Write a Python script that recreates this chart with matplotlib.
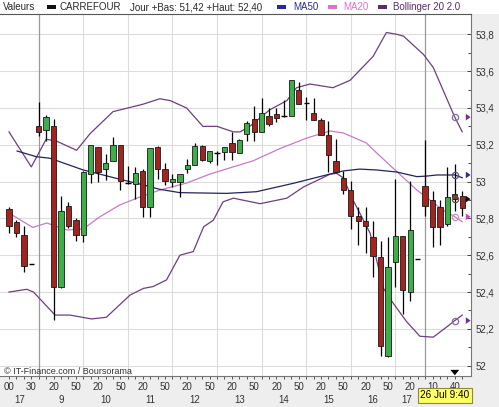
import matplotlib
matplotlib.use("Agg")
import matplotlib.pyplot as plt
from matplotlib.patches import Rectangle, Polygon
from matplotlib.transforms import blended_transform_factory

plt.rcParams['font.family'] = ['Liberation Sans', 'DejaVu Sans']

# ---------------- data (10-minute candles) ----------------
opens  = [52.85, 52.78, 52.71, 52.55, 53.30, 53.28, 53.30, 52.43, 52.87, 52.79,
          52.71, 53.04, 53.19, 53.07, 53.11, 53.20, 52.99, 52.985, 53.06, 52.86,
          53.19, 53.07, 53.00, 53.00, 53.07, 53.09, 53.195, 53.11, 53.155, 53.16,
          53.21, 53.155, 53.26, 53.34, 53.27, 53.355, 53.365, 53.355, 53.355, 53.495,
          53.425, 53.37, 53.335, 53.255, 53.11, 53.02, 52.955, 52.815, 52.785, 52.70,
          52.59, 52.055, 52.565, 52.705, 52.40, 52.58, 52.975, 52.90, 52.86, 52.77,
          52.93, 52.92]
highs  = [52.86, 52.79, 52.76, 52.55, 53.43, 53.36, 53.34, 52.92, 52.89, 52.80,
          53.06, 53.20, 53.19, 53.15, 53.24, 53.20, 53.085, 53.08, 53.07, 53.18,
          53.195, 53.10, 53.04, 53.04, 53.125, 53.21, 53.20, 53.165, 53.165, 53.19,
          53.27, 53.23, 53.33, 53.41, 53.455, 53.40, 53.40, 53.445, 53.55, 53.54,
          53.46, 53.455, 53.345, 53.33, 53.23, 53.06, 53.005, 52.86, 52.86, 52.785,
          52.68, 52.70, 53.015, 52.705, 53.005, 52.58, 53.225, 52.95, 52.90, 53.08,
          53.095, 52.95]
lows   = [52.72, 52.70, 52.51, 52.55, 53.25, 53.22, 52.25, 52.42, 52.75, 52.68,
          52.67, 52.99, 53.00, 53.01, 53.11, 52.955, 52.985, 52.905, 52.81, 52.81,
          53.015, 52.98, 52.97, 52.915, 53.045, 53.09, 53.11, 53.10, 53.09, 53.115,
          53.12, 53.155, 53.22, 53.22, 53.27, 53.30, 53.325, 53.35, 53.355, 53.42,
          53.335, 53.335, 53.255, 53.05, 53.045, 52.93, 52.745, 52.655, 52.61, 52.48,
          52.05, 52.045, 52.43, 52.28, 52.35, 52.58, 52.815, 52.645, 52.655, 52.76,
          52.84, 52.815]
closes = [52.76, 52.72, 52.54, 52.55, 53.27, 53.35, 52.43, 52.84, 52.76, 52.71,
          53.05, 53.20, 53.05, 53.10, 53.20, 53.005, 52.99, 53.045, 52.86, 53.18,
          53.07, 53.005, 53.015, 53.04, 53.09, 53.195, 53.12, 53.165, 53.155, 53.19,
          53.16, 53.225, 53.32, 53.27, 53.37, 53.315, 53.345, 53.355, 53.55, 53.42,
          53.425, 53.335, 53.255, 53.145, 53.05, 52.955, 52.815, 52.785, 52.76, 52.595,
          52.105, 52.535, 52.705, 52.41, 52.735, 52.58, 52.865, 52.755, 52.755, 52.915,
          52.905, 52.855]

# indicator lines, read at points (candle index, value)
ma50_idx = [1.1, 3.7, 5.5, 10, 14.9, 17.6, 20.3, 23, 29.3, 33.3, 38.3, 43.2, 45,
            47.2, 49.5, 52.2, 54.9, 56.2, 57.6, 60, 61]
ma50_val = [53.166, 53.135, 53.127, 53.063, 53.013, 52.987, 52.958, 52.940, 52.936,
            52.945, 52.991, 53.041, 53.058, 53.068, 53.063, 53.052, 53.027, 53.030,
            53.036, 53.036, 53.021]
ma20_idx = [0, 3.2, 5.1, 7.8, 10, 12.2, 14.9, 17.6, 20.3, 23.9, 27.05, 30.1, 32.8,
            36.5, 40.1, 43.2, 45, 48.1, 49.5, 52.2, 54.9, 58.4, 60, 61]
ma20_val = [52.829, 52.751, 52.775, 52.737, 52.743, 52.808, 52.873, 52.916, 52.954,
            52.992, 53.041, 53.079, 53.112, 53.180, 53.237, 53.275, 53.264, 53.210,
            53.155, 53.054, 52.954, 52.846, 52.809, 52.782]
bb_up_idx = [0, 3, 5, 6.4, 9.1, 10.9, 14, 18, 20.3, 21.7, 23.9, 26.1, 28, 30.2, 31.1,
             32.4, 35.1, 37.4, 38.7, 40.5, 43.6, 45.9, 49, 50.8, 52.2, 53.1, 55.8,
             57.1, 60, 61]
bb_up_val = [53.27, 53.08, 53.23, 53.22, 53.17, 53.26, 53.38, 53.42, 53.45, 53.44,
             53.40, 53.30, 53.30, 53.27, 53.27, 53.30, 53.39, 53.44, 53.51, 53.53,
             53.51, 53.55, 53.68, 53.81, 53.80, 53.79, 53.69, 53.62, 53.35, 53.27]
bb_lo_idx = [0, 2.4, 3.3, 6.2, 8.2, 11.1, 13.1, 16.3, 18.1, 19.4, 21.2, 23, 24.8,
             26.2, 27.5, 28.8, 30.2, 33.8, 37.4, 39.6, 43.2, 44.1, 45, 46.3, 48.6,
             50.4, 51.7, 53.5, 55.3, 57.1, 58.9, 60, 61]
bb_lo_val = [52.40, 52.415, 52.40, 52.275, 52.275, 52.254, 52.263, 52.384, 52.42,
             52.43, 52.466, 52.60, 52.62, 52.755, 52.79, 52.89, 52.91, 52.88, 52.91,
             52.97, 53.04, 53.045, 53.02, 52.90, 52.72, 52.42, 52.34, 52.24, 52.16,
             52.155, 52.21, 52.245, 52.275]

price_ticks = [52.0, 52.2, 52.4, 52.6, 52.8, 53.0, 53.2, 53.4, 53.6, 53.8]
price_tick_labels = ["52", "52,2", "52,4", "52,6", "52,8", "53", "53,2", "53,4", "53,6", "53,8"]

# sessions shown: (start h, start m, end h, end m)
sessions = [(17, 0, 17, 30), (9, 0, 17, 30), (9, 0, 9, 50)]
cursor_index = 60
cursor_label = "26 Jul 9:40"

header_items = ["Valeurs", "CARREFOUR", "Jour +Bas: 51,42 +Haut: 52,40",
                "MA50", "MA20", "Bollinger 20 2.0"]
credit = "\u00a9 IT-Finance.com / Boursorama"

# ---------------- build time axis ----------------
times = []          # (session, hour, minute)
for s, (h0, m0, h1, m1) in enumerate(sessions):
    t = h0 * 60 + m0
    while t <= h1 * 60 + m1:
        times.append((s, t // 60, t % 60))
        t += 10
n = len(times)

# ---------------- figure ----------------
W, H = 499, 407
fig = plt.figure(figsize=(W / 100, H / 100), dpi=100)
fig.patch.set_facecolor("#eeeeee")
fx = lambda px: px / W
fy = lambda py: 1 - py / H

ax_left, ax_right, ax_top, ax_bot = 0, 471, 14, 376
ax = fig.add_axes([fx(ax_left), fy(ax_bot), (ax_right - ax_left) / W, (ax_bot - ax_top) / H])
ax.set_facecolor("white")

# white header strip
fig.patches.append(Rectangle((0, fy(ax_top)), 1, 1 - fy(ax_top), transform=fig.transFigure,
                             fc="white", ec="none", zorder=-5))

ppx = 7.43  # px per candle
x0 = 9
ax.set_xlim((ax_left - x0) / ppx, (ax_right - x0) / ppx)
ymin = 52 + (365.7 - ax_bot) / 184.1
ymax = 52 + (365.7 - ax_top) / 184.1
ax.set_ylim(ymin, ymax)

# grid
for v in price_ticks:
    ax.axhline(v, color="#dcdcdc", lw=0.8, zorder=0)
for i, (s, h, m) in enumerate(times):
    if m == 0 and i > 0:
        if times[i - 1][0] != s:
            ax.axvline(i, color="#9a9a9a", lw=0.9, zorder=0.5)
        else:
            ax.axvline(i, color="#dcdcdc", lw=0.8, zorder=0)

# indicator lines
c_bb, c_ma20, c_ma50 = "#6e3f7e", "#c77bc7", "#23235e"
ax.plot(bb_up_idx, bb_up_val, color=c_bb, lw=0.9, zorder=1)
ax.plot(bb_lo_idx, bb_lo_val, color=c_bb, lw=0.9, zorder=1)
ax.plot(ma20_idx, ma20_val, color=c_ma20, lw=0.9, zorder=1)
ax.plot(ma50_idx, ma50_val, color=c_ma50, lw=0.9, zorder=1)

# candles
bw = 0.72
for i in range(n):
    o, hi, lo, c = opens[i], highs[i], lows[i], closes[i]
    ax.vlines(i, lo, hi, color="black", lw=0.9, zorder=2)
    if abs(c - o) < 1e-9:
        ax.hlines(o, i - bw / 2, i + bw / 2, color="black", lw=1.0, zorder=3)
    else:
        col = "#3dae48" if c > o else "#a3241f"
        ax.add_patch(Rectangle((i - bw / 2, min(o, c)), bw, abs(c - o),
                               fc=col, ec="#1a1a1a", lw=0.6, zorder=3))

# cursor markers
def val_at(idx_list, val_list, k):
    return val_list[idx_list.index(k)]

cur_vals = [(val_at(bb_up_idx, bb_up_val, cursor_index), "#8a6a96", "#7a2a9a"),
            (val_at(ma50_idx, ma50_val, cursor_index), "#55558a", "#2a2a9a"),
            (closes[cursor_index], "#555555", "#111111"),
            (val_at(ma20_idx, ma20_val, cursor_index), "#c890c8", "#d040d0"),
            (val_at(bb_lo_idx, bb_lo_val, cursor_index), "#8a6a96", "#7a2a9a")]
xr = ax.get_xlim()[1]
for v, ccol, tcol in cur_vals:
    ax.plot(cursor_index, v, marker="o", ms=4.5, mfc="none", mec=ccol, mew=0.9, zorder=4)
    ax.add_patch(Polygon([(xr - 0.7, v + 0.018), (xr - 0.7, v - 0.018), (xr - 0.05, v)],
                         closed=True, fc=tcol, ec="none", zorder=5, clip_on=False))
# down triangle on time axis
bt = blended_transform_factory(ax.transData, ax.transAxes)
ax.add_patch(Polygon([(cursor_index - 0.6, 0.017), (cursor_index + 0.6, 0.017), (cursor_index, 0.002)],
                     closed=True, fc="black", ec="none", transform=bt, zorder=5))

# axes styling
ax.spines["left"].set_visible(False)
ax.spines["top"].set_color("#555555")
ax.spines["right"].set_color("#777777")
ax.spines["bottom"].set_color("#777777")
for sp in ax.spines.values():
    sp.set_linewidth(0.8)

ax.yaxis.tick_right()
ax.set_yticks(price_ticks)
ax.set_yticklabels(price_tick_labels)
ax.set_yticks([v + 0.1 for v in price_ticks[:-1]], minor=True)
ax.tick_params(axis="y", which="both", direction="in", length=3, width=0.7,
               colors="#444444", labelsize=7, pad=3, left=False)
ax.tick_params(axis="y", which="minor", length=2.5)
for lab in ax.get_yticklabels():
    lab.set_color("#333333")

ax.set_xticks(range(n))
ax.set_xticklabels([])
ax.tick_params(axis="x", which="both", direction="out", length=2.5, width=0.7,
               colors="#555555", top=False)

# time labels
tt = blended_transform_factory(ax.transData, fig.transFigure)
for i, (s, h, m) in enumerate(times):
    if (cursor_index - i) % 3 == 0 and i <= cursor_index:
        ax.text(i, fy(387), "%02d" % m, transform=tt, ha="center", va="center",
                fontsize=7, color="#333333", clip_on=False)
cursor_session = times[cursor_index][0]
groups = {}
for i, (s, h, m) in enumerate(times):
    if s == cursor_session:
        continue  # hidden behind the cursor date box
    groups.setdefault((s, h), []).append(i)
for (s, h), idxs in groups.items():
    pos = None
    for i in idxs:
        if times[i][2] == 30 and len(idxs) == 6:
            pos = i
    if pos is None:
        pos = sum(idxs) / len(idxs)
    ax.text(pos, fy(400), str(h), transform=tt, ha="center", va="center",
            fontsize=7, color="#333333", clip_on=False)

# cursor date box
fig.patches.append(Rectangle((fx(418), fy(403)), 54 / W, 15 / H, transform=fig.transFigure,
                             fc="#ffff66", ec="#8a8a3a", lw=0.8, zorder=10))
fig.text(fx(445), fy(395.5), cursor_label, ha="center", va="center", fontsize=7.2,
         color="black", zorder=11)

# credit
fig.text(fx(4), fy(371), credit, ha="left", va="center", fontsize=6.5, color="#333333")

# header
hy = fy(7)
hdr_col = "#2a2a2a"
fig.text(fx(3), hy, header_items[0], fontsize=7, color=hdr_col, va="center")
sw = [(47, "#111111"), (277, "#2a2a90"), (328, "#e070d0"), (378, "#5e2a6e")]
for px, col in sw:
    fig.patches.append(Rectangle((fx(px), fy(8.5)), 9 / W, 3 / H, transform=fig.transFigure,
                                 fc=col, ec="none"))
fig.text(fx(60), hy, header_items[1], fontsize=7, color=hdr_col, va="center")
fig.text(fx(130), hy, header_items[2], fontsize=7, color=hdr_col, va="center")
fig.text(fx(293), hy, header_items[3], fontsize=7, color="#2a2a9a", va="center")
fig.text(fx(343), hy, header_items[4], fontsize=7, color="#e070d0", va="center")
fig.text(fx(393), hy, header_items[5], fontsize=7, color="#5e2a6e", va="center")

fig.savefig("out.png", dpi=100, facecolor=fig.get_facecolor())
